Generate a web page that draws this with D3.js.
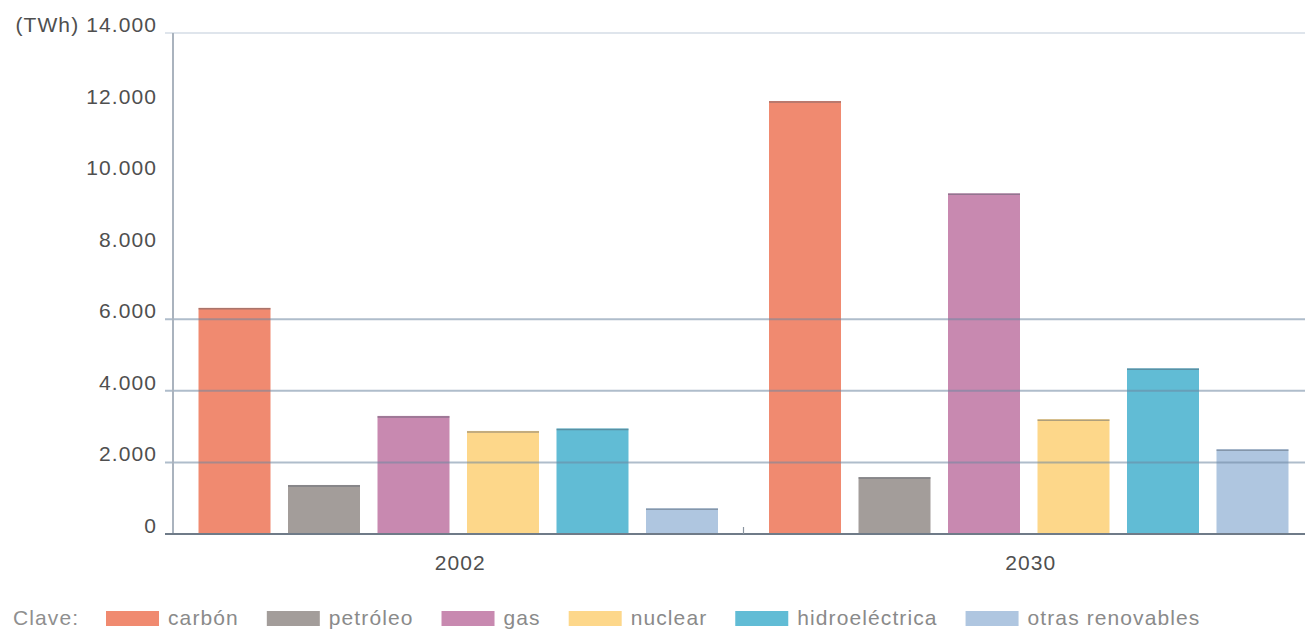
<!DOCTYPE html>
<html>
<head>
<meta charset="utf-8">
<script src="https://cdn.jsdelivr.net/npm/d3@7"></script>
<style>
  html, body { margin: 0; padding: 0; background: #fff; }
  svg { display: block; }
  text { font-family: "Liberation Sans", Arial, sans-serif; }
</style>
</head>
<body>
<svg id="chart" width="1305" height="630"></svg>
<script>
// ---- data ----
const years = ["2002", "2030"];
const sources = ["carbón", "petróleo", "gas", "nuclear", "hidroeléctrica", "otras renovables"];
const values2002 = [6320, 1370, 3300, 2880, 2950, 720];
const values2030 = [12100, 1590, 9520, 3210, 4630, 2370];
const yTicks = [0, 2000, 4000, 6000, 8000, 10000, 12000, 14000];
const yTickLabels = ["0", "2.000", "4.000", "6.000", "8.000", "10.000", "12.000", "14.000"];
const gridValues = [2000, 4000, 6000];
const colors = ["#F08A70", "#A39D9A", "#C889B0", "#FDD78A", "#61BCD5", "#AFC6E0"];
const unitLabel = "(TWh)";
const legendTitle = "Clave:";

const seriesByYear = { "2002": values2002, "2030": values2030 };

// ---- layout ----
const svg = d3.select("#chart");
const plotLeft = 173, plotRight = 1314, plotTop = 33, plotBottom = 534;

const y = d3.scaleLinear().domain([0, 14000]).range([plotBottom, plotTop]);
const x0 = d3.scaleBand().domain(years).range([plotLeft, plotRight]).padding(0);
const x1 = d3.scaleBand().domain(sources).range([0, x0.bandwidth()])
  .paddingInner(0.1955).paddingOuter(0.285);
const color = d3.scaleOrdinal().domain(sources).range(colors);

// top gridline (14000)
svg.append("line")
  .attr("x1", 165).attr("x2", 1305)
  .attr("y1", y(14000)).attr("y2", y(14000))
  .attr("stroke", "#dfe5ec").attr("stroke-width", 2);

// bars
const groups = svg.append("g").selectAll("g")
  .data(years).join("g")
  .attr("transform", d => `translate(${x0(d)},0)`);

groups.selectAll("rect.bar")
  .data(yr => sources.map((s, i) => ({ s, v: seriesByYear[yr][i] })))
  .join("rect")
  .attr("class", "bar")
  .attr("x", d => x1(d.s))
  .attr("y", d => y(d.v))
  .attr("width", x1.bandwidth())
  .attr("height", d => plotBottom - y(d.v))
  .attr("fill", d => color(d.s));

// thin dark top edge on bars
groups.selectAll("line.edge")
  .data(yr => sources.map((s, i) => ({ s, v: seriesByYear[yr][i] })))
  .join("line")
  .attr("class", "edge")
  .attr("x1", d => x1(d.s)).attr("x2", d => x1(d.s) + x1.bandwidth())
  .attr("y1", d => y(d.v) + 1).attr("y2", d => y(d.v) + 1)
  .attr("stroke", "rgba(80,90,105,0.45)").attr("stroke-width", 1.5);

// gridlines over bars
svg.append("g").selectAll("line")
  .data(gridValues).join("line")
  .attr("x1", 165).attr("x2", 1305)
  .attr("y1", d => y(d)).attr("y2", d => y(d))
  .attr("stroke", "rgba(110,135,160,0.55)").attr("stroke-width", 2);

// y axis line
svg.append("line")
  .attr("x1", plotLeft).attr("x2", plotLeft)
  .attr("y1", y(14000)).attr("y2", plotBottom)
  .attr("stroke", "#aab3be").attr("stroke-width", 2);

// x baseline
svg.append("line")
  .attr("x1", 165).attr("x2", 1305)
  .attr("y1", plotBottom).attr("y2", plotBottom)
  .attr("stroke", "#6f7b88").attr("stroke-width", 2);

// middle tick between groups
svg.append("line")
  .attr("x1", x0("2030")).attr("x2", x0("2030"))
  .attr("y1", plotBottom - 7).attr("y2", plotBottom)
  .attr("stroke", "#8a94a0").attr("stroke-width", 1.2);

// y tick labels
svg.append("g").selectAll("text")
  .data(yTicks).join("text")
  .attr("x", 157)
  .attr("y", d => y(d) - 1)
  .attr("text-anchor", "end")
  .attr("font-size", 21)
  .attr("letter-spacing", 1.1)
  .attr("fill", "#4f4f4f")
  .text((d, i) => (d === 14000 ? unitLabel + " " : "") + yTickLabels[i]);

// x labels
svg.append("g").selectAll("text")
  .data(years).join("text")
  .attr("x", d => x0(d) + x0.bandwidth() / 2 + 2)
  .attr("y", 570)
  .attr("text-anchor", "middle")
  .attr("font-size", 21)
  .attr("letter-spacing", 1.1)
  .attr("fill", "#4f4f4f")
  .text(d => d);

// legend
const legend = svg.append("g");
legend.append("text")
  .attr("x", 13).attr("y", 625)
  .attr("font-size", 21).attr("letter-spacing", 1.1)
  .attr("fill", "#8f8f8f")
  .text(legendTitle);

let lx = 106;
sources.forEach((s, i) => {
  legend.append("rect")
    .attr("x", lx).attr("y", 611)
    .attr("width", 53).attr("height", 15)
    .attr("fill", color(s));
  const t = legend.append("text")
    .attr("x", lx + 62).attr("y", 625)
    .attr("font-size", 21).attr("letter-spacing", 1.1)
    .attr("fill", "#8a8a8a")
    .text(s);
  lx = lx + 62 + t.node().getComputedTextLength() + 28;
});
</script>
</body>
</html>
